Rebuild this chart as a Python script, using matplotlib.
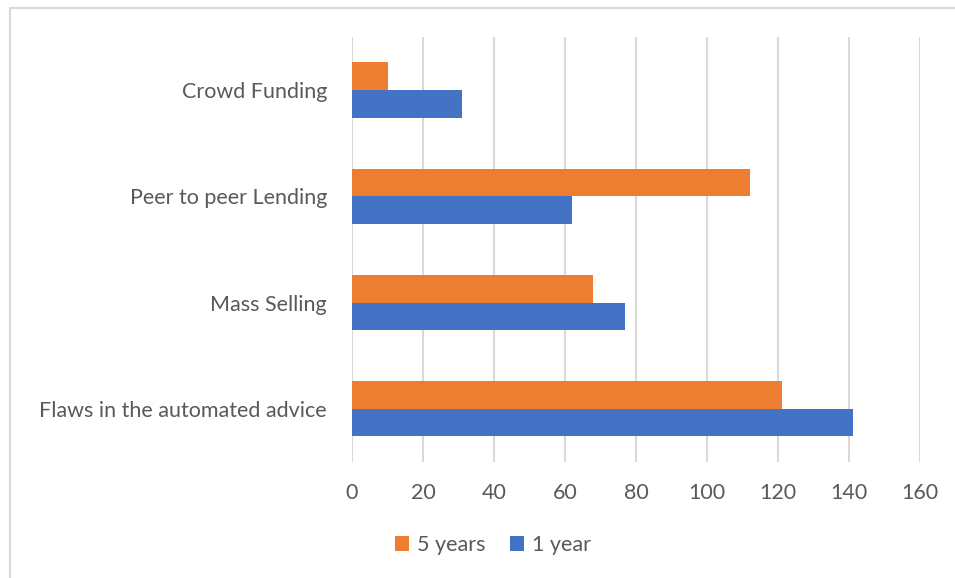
import matplotlib
matplotlib.use('Agg')
import matplotlib.pyplot as plt
import numpy as np
from matplotlib.patches import Rectangle

categories = ['Flaws in the automated advice', 'Mass Selling',
              'Peer to peer Lending', 'Crowd Funding']
five_years = [121, 68, 112, 10]
one_year = [141, 77, 62, 31]
x_ticks = [0, 20, 40, 60, 80, 100, 120, 140, 160]

orange = '#ED7D31'
blue = '#4472C4'
text_col = '#595959'
grid_col = '#d9d9d9'

plt.rcParams['font.family'] = ['Lato', 'DejaVu Sans']

fig = plt.figure(figsize=(9.55, 5.78), dpi=100)
ax = fig.add_axes([0.3686, 0.2007, 0.5948, 0.7353])

y = np.arange(len(categories))
h = 0.26
ax.barh(y + h / 2, five_years, height=h, color=orange, label='5 years', zorder=3)
ax.barh(y - h / 2, one_year, height=h, color=blue, label='1 year', zorder=3)

ax.set_xlim(0, 160)
ax.set_ylim(-0.5, 3.5)
ax.set_xticks(x_ticks)
ax.set_yticks(y)
ax.set_yticklabels(categories)
ax.grid(axis='x', color=grid_col, lw=1.5, zorder=0)
for s in ax.spines.values():
    s.set_visible(False)
ax.tick_params(axis='both', length=0, labelsize=15.5, labelcolor=text_col)
ax.tick_params(axis='y', pad=18)
ax.tick_params(axis='x', pad=15)

# chart outline
fig.patches.append(Rectangle((10 / 955, -0.1), 1.1, 1 - 8 / 578 + 0.1,
                             transform=fig.transFigure, fill=False,
                             ec=grid_col, lw=1.5))

leg = fig.legend(loc='center', bbox_to_anchor=(493 / 955, 1 - 545 / 578),
                 ncol=2, frameon=False, fontsize=15.5, handlelength=0.65,
                 handleheight=0.65, handletextpad=0.4, columnspacing=1.1)
for t in leg.get_texts():
    t.set_color(text_col)

fig.savefig('out.png', dpi=100)
